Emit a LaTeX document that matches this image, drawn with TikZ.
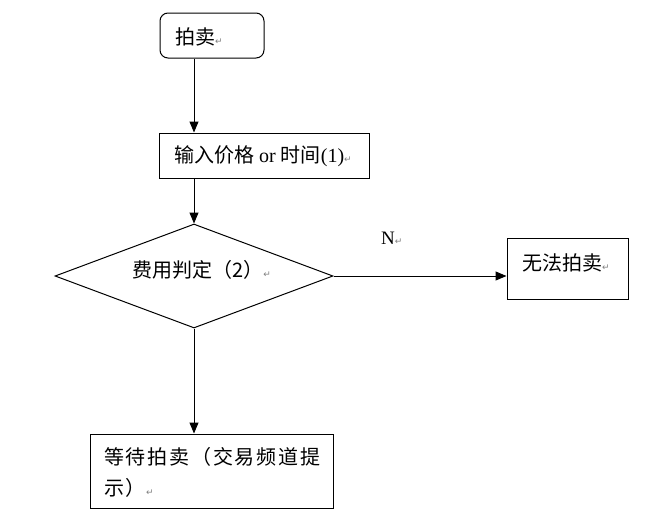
\documentclass[tikz,border=0pt]{standalone}
\usepackage{fontspec}
\setmainfont{Liberation Serif}
\newfontfamily\cjk{Noto Sans CJK SC}
\newfontfamily\cjksp[LetterSpace=9]{Noto Sans CJK SC}
\newfontfamily\symf{DejaVu Sans}
\usetikzlibrary{shapes.geometric,arrows.meta}
\newcommand\retmark{{\symf\fontsize{9}{9}\selectfont\textcolor{gray}{↵}}}
\begin{document}
\begin{tikzpicture}[x=1pt,y=-1pt,
  box/.style={draw, line width=1pt, inner sep=0pt, minimum width=#1},
  lbl/.style={anchor=west, inner sep=0pt, font=\fontsize{20}{20}\selectfont},
  conn/.style={line width=1pt, -{Triangle[length=11pt,width=9pt]}}]
\useasboundingbox (0,0) rectangle (649,515);
\fill[white] (0,0) rectangle (649,515);
% boxes
\node[box=104pt, minimum height=45pt, rounded corners=8pt] (b1) at (212,35.5) {};
\node[box=210pt, minimum height=45pt] (b2) at (264,155.5) {};
\node[draw, line width=1pt, diamond, inner sep=0pt, minimum width=278pt, minimum height=104pt] (d) at (194,276) {};
\node[box=121pt, minimum height=61pt] (b3) at (567.5,268.5) {};
\node[box=243pt, minimum height=74pt] (b4) at (212,471) {};
% texts
\node[lbl] (t1) at (175,37) {\cjk 拍卖\retmark};
\node[lbl] (t2) at (174,156) {{\cjk 输入价格} or {\cjk 时间}(1)\retmark};
\node[lbl] (t3) at (132,270) {\cjk 费用判定（2）\retmark};
\node[lbl] (t4) at (522,263) {\cjk 无法拍卖\retmark};
\node[lbl] (t5a) at (104,457) {\cjksp 等待拍卖（交易频道提};
\node[lbl] (t5b) at (104,488) {\cjksp 示）\retmark};
\node[lbl, font=\fontsize{19}{19}\selectfont] (tn) at (381,238) {N\retmark};
% connectors
\draw[conn] (b1.south -| d.north) -- (b2.north -| d.north);
\draw[conn] (b2.south -| d.north) -- (d.north);
\draw[conn] (d.east) -- (d.east -| b3.west);
\draw[conn] (d.south) -- (d.south |- b4.north);
\end{tikzpicture}
\end{document}
